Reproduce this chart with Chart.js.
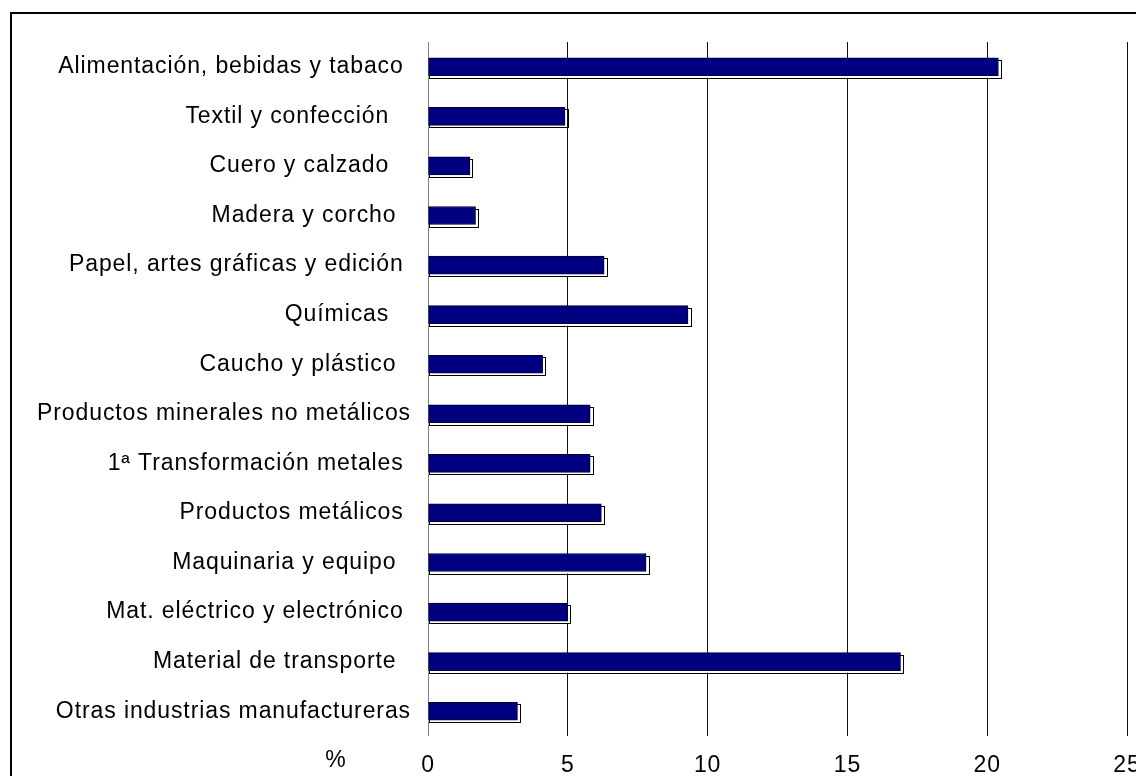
<!DOCTYPE html>
<html>
<head>
<meta charset="utf-8">
<script src="https://cdn.jsdelivr.net/npm/chart.js@4"></script>
<style>
  html, body { margin: 0; padding: 0; background: #fff; overflow: hidden; }
  #marco { position: absolute; left: 10px; top: 12px; width: 1200px; height: 800px; border: 2px solid #000; }
  #grafico { position: absolute; left: 0; top: 0; }
</style>
</head>
<body>
<div id="marco"></div>
<canvas id="grafico" width="1136" height="776"></canvas>
<script>
// sectores (con los espacios finales del original)
let sectores = [
  "Alimentación, bebidas y tabaco ",
  "Textil y confección   ",
  "Cuero y calzado   ",
  "Madera y corcho  ",
  "Papel, artes gráficas y edición ",
  "Químicas   ",
  "Caucho y plástico  ",
  "Productos minerales no metálicos",
  "1ª Transformación metales ",
  "Productos metálicos ",
  "Maquinaria y equipo  ",
  "Mat. eléctrico y electrónico ",
  "Material de transporte  ",
  "Otras industrias manufactureras"
];
let porcentajes = [20.4, 4.9, 1.5, 1.7, 6.3, 9.3, 4.1, 5.8, 5.8, 6.2, 7.8, 5.0, 16.9, 3.2];
let ticksX = [0, 5, 10, 15, 20, 25];

// sombra blanca con borde negro detrás de cada barra
const sombraBarras = {
  id: 'sombraBarras',
  beforeDatasetsDraw(chart) {
    let ctx = chart.ctx;
    let meta = chart.getDatasetMeta(0);
    ctx.save();
    meta.data.forEach(bar => {
      let x0 = bar.base, x1 = bar.x;
      let y0 = bar.y - bar.height / 2, y1 = bar.y + bar.height / 2;
      ctx.fillStyle = '#fff';
      ctx.strokeStyle = '#000';
      ctx.lineWidth = 1;
      ctx.fillRect(x0, y0 + 2, x1 - x0 + 2, y1 - y0);
      ctx.strokeRect(Math.round(x0) + 0.5, Math.round(y0 + 2) + 0.5, Math.round(x1 - x0 + 2), Math.round(y1 - y0));
    });
    ctx.restore();
  }
};

// "%" a la izquierda de las etiquetas del eje
const etiquetaPct = {
  id: 'etiquetaPct',
  beforeDraw(chart) {
    chart.ctx.letterSpacing = '0.9px';
  },
  afterDraw(chart) {
    let ctx = chart.ctx;
    ctx.save();
    ctx.font = '23px "Liberation Sans", Arial, sans-serif';
    ctx.fillStyle = '#000';
    ctx.textAlign = 'center';
    ctx.textBaseline = 'middle';
    ctx.fillText('%', 336, 761);
    ctx.restore();
  }
};

Chart.defaults.font.family = '"Liberation Sans", Arial, sans-serif';
Chart.defaults.font.size = 23;
Chart.defaults.color = '#000';

let chart = new Chart(document.getElementById('grafico').getContext('2d'), {
  type: 'bar',
  data: {
    labels: sectores,
    datasets: [{
      data: porcentajes,
      backgroundColor: '#000080',
      borderColor: '#000030',
      borderWidth: 1,
      borderSkipped: false,
      barThickness: 18
    }]
  },
  plugins: [sombraBarras, etiquetaPct],
  options: {
    indexAxis: 'y',
    responsive: false,
    animation: false,
    layout: { padding: { top: 42, right: 9, left: 0, bottom: 0 } },
    plugins: {
      legend: { display: false },
      tooltip: { enabled: false },
      title: { display: false }
    },
    scales: {
      x: {
        min: 0,
        max: 25,
        afterBuildTicks(scale) {
          scale.ticks = ticksX.map(v => ({ value: v }));
        },
        afterFit(scale) {
          scale.height = 40;
          scale.paddingLeft = 0;
          scale.paddingRight = 0;
        },
        grid: {
          drawTicks: false,
          lineWidth: 1,
          color: ctx => ctx.tick && ctx.tick.value === 0 ? '#808080' : '#111'
        },
        border: { display: false },
        ticks: { padding: 16, color: '#000', maxRotation: 0 }
      },
      y: {
        afterFit(scale) {
          scale.width = 428;
          scale.paddingTop = 0;
          scale.paddingBottom = 0;
        },
        grid: { display: false, drawTicks: false },
        border: { display: false },
        ticks: { padding: 17, color: '#000', autoSkip: false }
      }
    }
  }
});
</script>
</body>
</html>
